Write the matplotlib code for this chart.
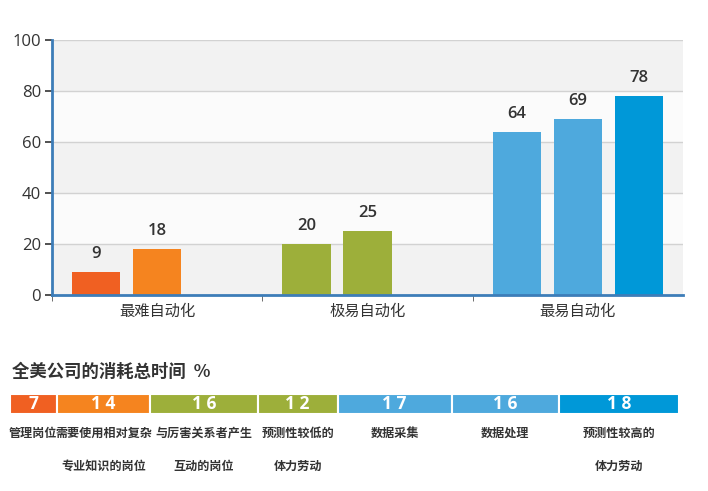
import numpy as np
import matplotlib.pyplot as plt

plt.rcParams['font.family'] = ['Noto Sans CJK SC', 'DejaVu Sans']
NUM_FONT = ['Open Sans', 'DejaVu Sans']

# top chart data
groups = ["最难自动化", "极易自动化", "最易自动化"]
vals_a = [9, 20, 64]
vals_b = [18, 25, 69]
vals_c = [0, 0, 78]
cols_a = ["#F06022", "#9DAF3A", "#4EA9DD"]
cols_b = ["#F5841F", "#9DAF3A", "#4EA9DD"]
cols_c = ["#4EA9DD", "#4EA9DD", "#0098D8"]

# bottom strip data
shares = [7, 14, 16, 12, 17, 16, 18]
share_cols = ["#F06022", "#F5841F", "#9DAF3A", "#9DAF3A", "#4EA9DD", "#4EA9DD", "#0098D8"]
share_lbl1 = ["管理岗位", "需要使用相对复杂", "与厉害关系者产生", "预测性较低的",
              "数据采集", "数据处理", "预测性较高的"]
share_lbl2 = ["", "专业知识的岗位", "互动的岗位", "体力劳动", "", "", "体力劳动"]

W, H = 708, 491
fig = plt.figure(figsize=(W / 100, H / 100), dpi=100)

ax = fig.add_axes([52 / W, 1 - 295 / H, 631 / W, 255 / H])
x = np.arange(len(groups))
bw, off = 0.229, 0.29
for lo in range(0, 100, 20):
    ax.axhspan(lo, lo + 20, color="#F2F2F2" if (lo // 20) % 2 == 0 else "#FBFBFB", zorder=0, lw=0)
for g in range(20, 101, 20):
    ax.axhline(g, color="#D2D2D2", lw=1, zorder=1)

for vals, cols, dx in [(vals_a, cols_a, -off), (vals_b, cols_b, 0), (vals_c, cols_c, off)]:
    ax.bar(x + dx, vals, bw, color=cols, zorder=2)
    for xi, v in zip(x + dx, vals):
        if v > 0:
            ax.text(xi, v + 4, str(v), ha="center", va="bottom", fontsize=12,
                    fontweight="semibold", color="#333333", family=NUM_FONT)

ax.set_xlim(-0.5, 2.5)
ax.set_ylim(0, 100)
ax.set_yticks(range(0, 101, 20))
ax.set_yticklabels([str(v) for v in range(0, 101, 20)], family=NUM_FONT, fontsize=12)
ax.tick_params(axis="y", labelcolor="#333333", color="#333333", length=5, width=1.2, pad=3)
ax.set_xticks(x)
ax.set_xticklabels(groups, fontsize=11, color="#333333")
ax.tick_params(axis="x", length=0, pad=6)
ax.set_xticks([-0.5, 0.5, 1.5], minor=True)
ax.tick_params(axis="x", which="minor", length=4, color="#555555")
for s in ["top", "right"]:
    ax.spines[s].set_visible(False)
ax.spines["left"].set_color("#3D7DB8")
ax.spines["left"].set_linewidth(2)
ax.spines["bottom"].set_color("#3D7DB8")
ax.spines["bottom"].set_linewidth(2)

fig.text(12 / W, 1 - 372 / H, "全美公司的消耗总时间  %", fontsize=12.5, fontweight="bold",
         color="#333333", va="center", ha="left")

bx = fig.add_axes([10 / W, 1 - 414 / H, 669 / W, 20 / H])
left = np.concatenate([[0], np.cumsum(shares)[:-1]])
bx.barh(0, shares, left=left, color=share_cols, height=1, edgecolor="white", linewidth=1.5)
bx.set_xlim(0, 100)
bx.set_ylim(-0.5, 0.5)
bx.axis("off")
for l, s, t1, t2 in zip(left, shares, share_lbl1, share_lbl2):
    cx = l + s / 2
    bx.text(cx, 0, " ".join(str(s)), ha="center", va="center", color="white", fontsize=12.5,
            fontweight="bold", family=NUM_FONT)
    bx.text(cx, -1.45, t1, ha="center", va="center", color="#333333", fontsize=8.7, fontweight="bold")
    if t2:
        bx.text(cx, -3.1, t2, ha="center", va="center", color="#333333", fontsize=8.7, fontweight="bold")

fig.savefig("out.png", dpi=100)
